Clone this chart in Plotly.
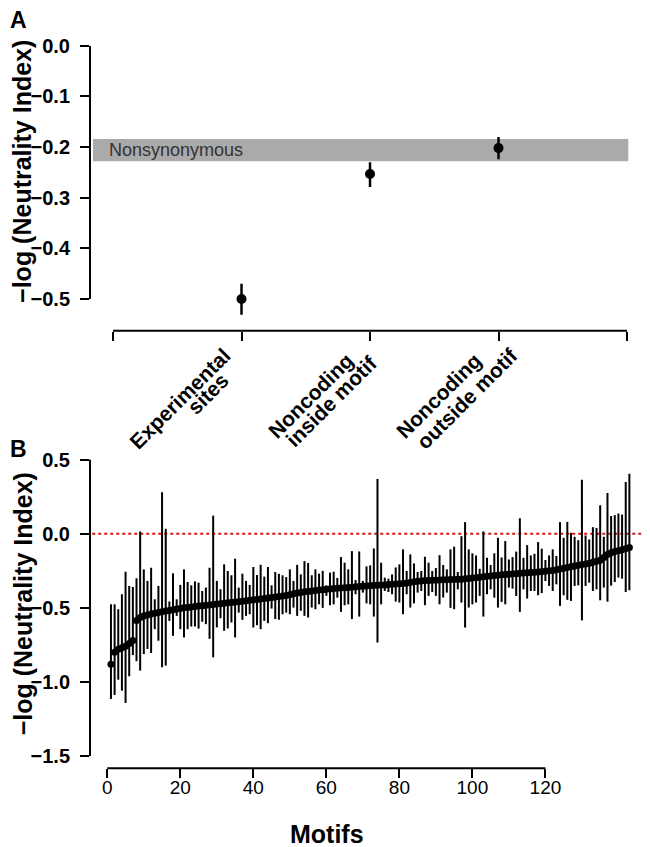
import plotly.graph_objects as go
import numpy as np

# ---------------- Panel A data ----------------
category_labels = [["Experimental", "sites"],
                   ["Noncoding", "inside motif"],
                   ["Noncoding", "outside motif"]]
category_values = [-0.500, -0.253, -0.202]
category_upper = [-0.470, -0.230, -0.180]
category_lower = [-0.531, -0.279, -0.224]
nonsyn_low = -0.228
nonsyn_high = -0.184
nonsyn_label = "Nonsynonymous"
A_yticks = [0.0, -0.1, -0.2, -0.3, -0.4, -0.5]

# ---------------- Panel B data ----------------
motif_values = [
    -0.880, -0.800, -0.780, -0.770, -0.760, -0.740, -0.720, -0.585, -0.565, -0.555,
    -0.548, -0.542, -0.537, -0.532, -0.527, -0.522, -0.517, -0.512, -0.508, -0.504,
    -0.500, -0.497, -0.494, -0.491, -0.488, -0.485, -0.482, -0.480, -0.477, -0.474,
    -0.472, -0.469, -0.466, -0.463, -0.460, -0.458, -0.455, -0.452, -0.449, -0.446,
    -0.443, -0.440, -0.437, -0.434, -0.430, -0.426, -0.423, -0.420, -0.416, -0.412,
    -0.405, -0.400, -0.396, -0.392, -0.389, -0.386, -0.383, -0.380, -0.378, -0.375,
    -0.372, -0.370, -0.368, -0.366, -0.364, -0.362, -0.360, -0.358, -0.356, -0.354,
    -0.352, -0.350, -0.348, -0.347, -0.346, -0.345, -0.343, -0.341, -0.339, -0.337,
    -0.335, -0.332, -0.328, -0.324, -0.320, -0.318, -0.316, -0.315, -0.314, -0.313,
    -0.312, -0.311, -0.310, -0.309, -0.308, -0.307, -0.306, -0.304, -0.302, -0.299,
    -0.296, -0.293, -0.290, -0.287, -0.284, -0.281, -0.279, -0.277, -0.275, -0.273,
    -0.271, -0.269, -0.267, -0.265, -0.263, -0.261, -0.259, -0.257, -0.255, -0.253,
    -0.250, -0.247, -0.243, -0.238, -0.233, -0.228, -0.223, -0.218, -0.213, -0.208,
    -0.203, -0.198, -0.192, -0.186, -0.178, -0.160, -0.140, -0.128, -0.120, -0.114,
    -0.108, -0.100, -0.092,
]
motif_upper = [
    -0.476, -0.476, -0.509, -0.408, -0.256, -0.352, -0.359, -0.300, 0.016, -0.240,
    -0.318, -0.229, -0.442, -0.352, 0.280, 0.034, -0.457, -0.267, -0.442, -0.345,
    -0.240, -0.325, -0.348, -0.321, -0.330, -0.386, -0.363, -0.229, 0.123, -0.318,
    -0.374, -0.206, -0.251, -0.280, -0.168, -0.363, -0.269, -0.318, -0.345, -0.224,
    -0.278, -0.209, -0.289, -0.224, -0.348, -0.258, -0.270, -0.280, -0.292, -0.240,
    -0.318, -0.209, -0.274, -0.184, -0.197, -0.280, -0.240, -0.269, -0.250, -0.348,
    -0.262, -0.256, -0.298, -0.157, -0.195, -0.240, -0.117, -0.312, -0.119, -0.318,
    -0.220, -0.213, -0.099, 0.370, -0.195, -0.296, -0.303, -0.274, -0.227, -0.206,
    -0.105, -0.251, -0.139, -0.200, -0.258, -0.251, -0.155, -0.195, -0.251, -0.231,
    -0.144, -0.210, -0.240, -0.105, -0.087, -0.258, -0.016, 0.079, -0.105, -0.132,
    -0.146, -0.236, 0.016, -0.162, -0.211, -0.132, -0.027, -0.160, -0.049, -0.173,
    -0.157, -0.120, 0.105, -0.162, -0.076, -0.146, -0.135, -0.056, -0.100, -0.177,
    -0.146, -0.105, -0.150, 0.079, -0.027, 0.081, 0.007, -0.020, -0.043, 0.366,
    -0.011, -0.038, 0.045, 0.040, 0.193, -0.020, 0.276, 0.120, 0.126, 0.137,
    0.130, 0.350, 0.406,
]
motif_lower = [
    -1.115, -1.088, -0.985, -1.059, -1.142, -0.962, -0.819, -0.860, -0.924, -0.812,
    -0.778, -0.805, -0.644, -0.722, -0.901, -0.890, -0.588, -0.689, -0.554, -0.644,
    -0.700, -0.644, -0.626, -0.626, -0.640, -0.594, -0.610, -0.709, -0.834, -0.632,
    -0.570, -0.655, -0.639, -0.599, -0.700, -0.532, -0.581, -0.554, -0.543, -0.633,
    -0.617, -0.644, -0.588, -0.603, -0.505, -0.576, -0.580, -0.543, -0.532, -0.543,
    -0.498, -0.554, -0.520, -0.554, -0.565, -0.498, -0.509, -0.476, -0.500, -0.419,
    -0.482, -0.476, -0.431, -0.527, -0.482, -0.476, -0.576, -0.408, -0.559, -0.397,
    -0.470, -0.476, -0.559, -0.734, -0.476, -0.386, -0.393, -0.408, -0.458, -0.464,
    -0.543, -0.408, -0.498, -0.470, -0.397, -0.386, -0.482, -0.419, -0.393, -0.419,
    -0.476, -0.430, -0.397, -0.500, -0.509, -0.375, -0.464, -0.633, -0.498, -0.476,
    -0.464, -0.419, -0.559, -0.408, -0.375, -0.431, -0.498, -0.460, -0.476, -0.363,
    -0.370, -0.420, -0.527, -0.375, -0.437, -0.386, -0.386, -0.415, -0.400, -0.319,
    -0.352, -0.386, -0.341, -0.487, -0.415, -0.446, -0.453, -0.352, -0.348, -0.585,
    -0.352, -0.330, -0.386, -0.375, -0.449, -0.363, -0.458, -0.350, -0.325, -0.296,
    -0.303, -0.393, -0.381,
]
B_yticks = [0.5, 0.0, -0.5, -1.0, -1.5]
B_xticks = [0, 20, 40, 60, 80, 100, 120]

# ---------------- Figure geometry ----------------
# the page body has an 8 px margin, so the figure is placed at (8, 8)
OFF = 8
W, H = 650 - OFF, 847 - OFF
FONT = "Liberation Sans, Arial, Helvetica, sans-serif"

def fx(p):
    return (p - OFF) / W

def fy(p):
    return 1 - (p - OFF) / H

cv = np.array(category_values)
cat_x = np.arange(1, len(category_labels) + 1)

mv = np.array(motif_values)
mx = np.arange(1, len(motif_values) + 1)

fig = go.Figure()

fig.add_trace(go.Scatter(
    x=cat_x, y=cv, mode="markers",
    marker=dict(color="black", size=10),
    error_y=dict(type="data", symmetric=False,
                 array=np.array(category_upper) - cv,
                 arrayminus=cv - np.array(category_lower),
                 color="black", thickness=2.5, width=0),
    xaxis="x", yaxis="y", showlegend=False, hoverinfo="skip",
))

fig.add_trace(go.Scatter(
    x=mx, y=mv, mode="markers",
    marker=dict(color="black", size=7),
    error_y=dict(type="data", symmetric=False,
                 array=np.array(motif_upper) - mv,
                 arrayminus=mv - np.array(motif_lower),
                 color="black", thickness=2, width=0),
    xaxis="x2", yaxis="y2", showlegend=False, hoverinfo="skip",
))

tick_common = dict(ticks="outside", ticklen=9, tickwidth=2, tickcolor="black",
                   showline=False, showgrid=False, zeroline=False)

A_xtickvals = [0] + list(cat_x) + [len(category_labels) + 1]

fig.update_layout(
    width=W, height=H,
    margin=dict(l=0, r=0, t=0, b=0),
    paper_bgcolor="white", plot_bgcolor="white",
    font=dict(family=FONT, color="black"),
    xaxis=dict(domain=[fx(90), fx(640)], range=[-0.179, 4.101],
               tickvals=A_xtickvals, ticktext=[""] * len(A_xtickvals),
               anchor="y", **tick_common),
    yaxis=dict(domain=[fy(329), fy(30)], range=[-0.563, 0.0256],
               tickvals=A_yticks, tickformat=".1f",
               tickfont=dict(size=20, weight="bold"),
               anchor="x", ticklabelstandoff=6, **tick_common),
    xaxis2=dict(domain=[fx(90), fx(648)], range=[-4.74, 148.1],
                tickvals=B_xticks,
                tickfont=dict(size=19),
                anchor="y2", ticklabelstandoff=-7, **tick_common),
    yaxis2=dict(domain=[fy(768), fy(450)], range=[-1.5834, 0.5565],
                tickvals=B_yticks, tickformat=".1f",
                tickfont=dict(size=20, weight="bold"),
                anchor="x2", ticklabelstandoff=6, **tick_common),
)

shapes = [
    # Nonsynonymous band
    dict(type="rect", xref="x", yref="y", x0=-0.156, x1=4.01,
         y0=nonsyn_low, y1=nonsyn_high, fillcolor="#aaaaaa",
         line=dict(width=0), layer="below"),
    # Panel A axes (R style, spanning first to last tick)
    dict(type="line", xref="x domain", yref="y", x0=0, x1=0,
         y0=min(A_yticks), y1=max(A_yticks), line=dict(color="black", width=2)),
    dict(type="line", xref="x", yref="y domain", x0=min(A_xtickvals), x1=max(A_xtickvals),
         y0=0, y1=0, line=dict(color="black", width=2)),
    # Panel B axes
    dict(type="line", xref="x2 domain", yref="y2", x0=0, x1=0,
         y0=min(B_yticks), y1=max(B_yticks), line=dict(color="black", width=2)),
    dict(type="line", xref="x2", yref="y2 domain", x0=min(B_xticks), x1=max(B_xticks),
         y0=0, y1=0, line=dict(color="black", width=2)),
    # zero reference line
    dict(type="line", xref="x2 domain", yref="y2", x0=0.004, x1=1, y0=0, y1=0,
         line=dict(color="#d01515", width=2, dash="dot"), layer="below"),
]
fig.update_layout(shapes=shapes)

ann = [
    dict(text=nonsyn_label, xref="x", yref="y", x=-0.05, y=(nonsyn_low + nonsyn_high) / 2,
         xanchor="left", yanchor="middle", showarrow=False,
         font=dict(size=18, color="#333333")),
    dict(text="−log (Neutrality Index)", xref="paper", yref="paper",
         x=fx(22.5), y=fy(169), textangle=-90, showarrow=False,
         xanchor="center", yanchor="middle",
         font=dict(size=25, weight="bold")),
    dict(text="−log (Neutrality Index)", xref="paper", yref="paper",
         x=fx(22.5), y=fy(603), textangle=-90, showarrow=False,
         xanchor="center", yanchor="middle",
         font=dict(size=25, weight="bold")),
    dict(text="A", xref="paper", yref="paper", x=fx(18), y=fy(17),
         showarrow=False, xanchor="center", yanchor="middle",
         font=dict(size=23, weight="bold")),
    dict(text="B", xref="paper", yref="paper", x=fx(18), y=fy(448),
         showarrow=False, xanchor="center", yanchor="middle",
         font=dict(size=23, weight="bold")),
    dict(text="Motifs", xref="paper", yref="paper", x=fx(327), y=fy(834),
         showarrow=False, xanchor="center", yanchor="middle",
         font=dict(size=25, weight="bold")),
]

# rotated category labels (two lines each), placed under their ticks
tick_px = [242, 370, 499]
line_offsets = [[(-62, 68), (-34, 63)],
                [(-59, 65), (-38, 70)],
                [(-60, 65), (-32, 68)]]
axis_line_px = 329
for lines, tpx, offs in zip(category_labels, tick_px, line_offsets):
    for text, (dx, dy) in zip(lines, offs):
        ann.append(dict(text=text, xref="paper", yref="paper",
                        x=fx(tpx + dx), y=fy(axis_line_px + dy),
                        textangle=-45, showarrow=False,
                        xanchor="center", yanchor="middle",
                        font=dict(size=21, weight="bold")))

fig.update_layout(annotations=ann)

fig.write_html("out.html")
